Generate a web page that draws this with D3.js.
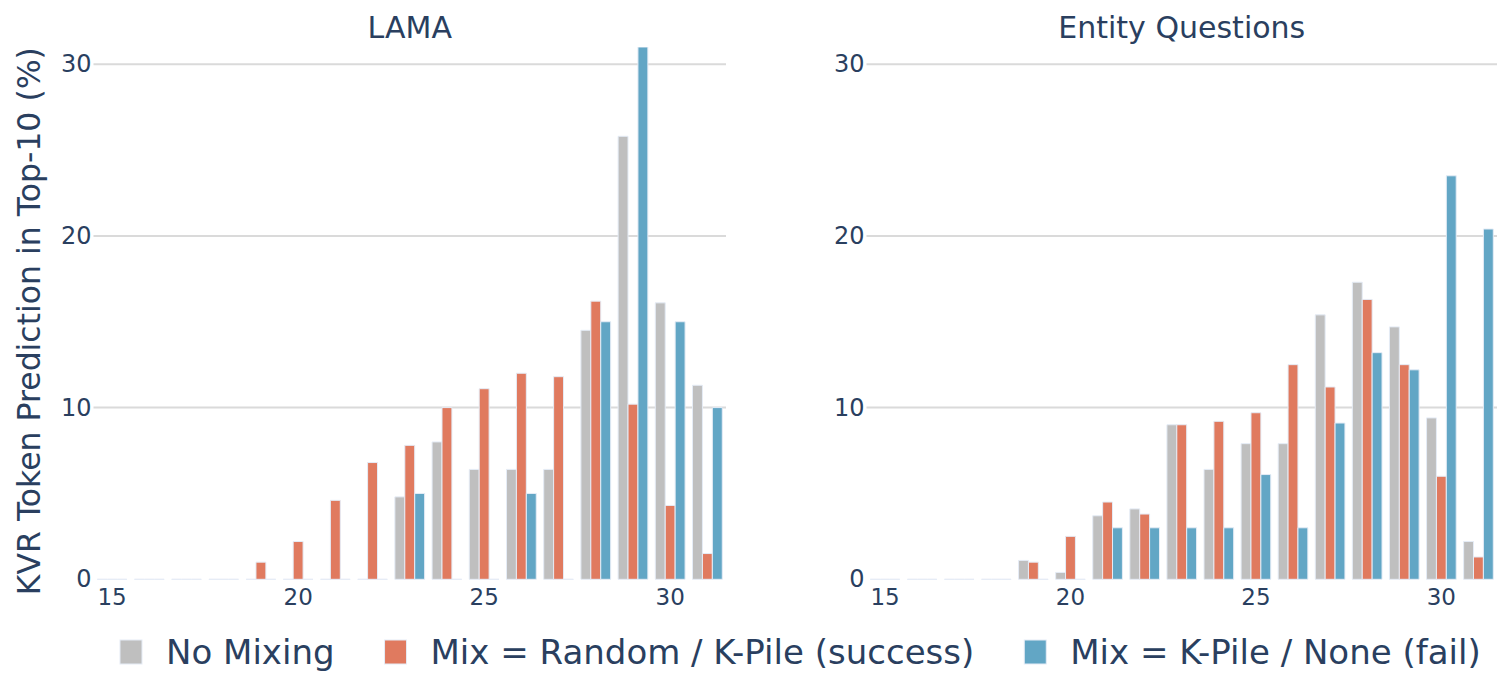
<!DOCTYPE html>
<html>
<head>
<meta charset="utf-8">
<script src="https://cdn.jsdelivr.net/npm/d3@7"></script>
<style>
  body { margin: 0; background: #fff; }
  text { font-family: "DejaVu Sans", Verdana, sans-serif; fill: #2a3f5f; }
</style>
</head>
<body>
<div id="chart-area"></div>
<script>
// categories (number of layers / bins on the x axis)
var bins = [15, 16, 17, 18, 19, 20, 21, 22, 23, 24, 25, 26, 27, 28, 29, 30, 31];
var xTicks = [15, 20, 25, 30];
var yTicks = [0, 10, 20, 30];
var seriesNames = ["No Mixing", "Mix = Random / K-Pile (success)", "Mix = K-Pile / None (fail)"];
var panelTitles = ["LAMA", "Entity Questions"];

// LAMA
var lamaNoMix  = [0, 0, 0, 0, 0,   0,   0,   0,   4.8, 8.0, 6.4,  6.4,  6.4,  14.5, 25.8, 16.1, 11.3];
var lamaRandom = [0, 0, 0, 0, 1.0, 2.2, 4.6, 6.8, 7.8, 10.0, 11.1, 12.0, 11.8, 16.2, 10.2, 4.3, 1.5];
var lamaKPile  = [0, 0, 0, 0, 0,   0,   0,   0,   5.0, 0,   0,    5.0,  0,    15.0, 31.0, 15.0, 10.0];

// Entity Questions
var entNoMix  = [0, 0, 0, 0, 1.1, 0.4, 3.7, 4.1, 9.0, 6.4, 7.9, 7.9,  15.4, 17.3, 14.7, 9.4,  2.2];
var entRandom = [0, 0, 0, 0, 1.0, 2.5, 4.5, 3.8, 9.0, 9.2, 9.7, 12.5, 11.2, 16.3, 12.5, 6.0,  1.3];
var entKPile  = [0, 0, 0, 0, 0,   0,   3.0, 3.0, 3.0, 3.0, 6.1, 3.0,  9.1,  13.2, 12.2, 23.5, 20.4];

var colors = ["#bfbfbf", "#e07a5f", "#62a6c5"];

var W = 1507, H = 698;
var plotTop = 47, plotBottom = 579.3;
var panels = [
    {title: panelTitles[0], left: 93.5, right: 726, series: [lamaNoMix, lamaRandom, lamaKPile]},
    {title: panelTitles[1], left: 866.5, right: 1497, series: [entNoMix, entRandom, entKPile]}
];

var svg = d3.select("#chart-area")
    .append("svg")
        .attr("width", W)
        .attr("height", H);

var y = d3.scaleLinear()
    .domain([0, 31])
    .range([plotBottom, plotTop]);

panels.forEach(function(p, pi) {
    var x = d3.scaleBand()
        .domain(bins)
        .range([p.left, p.right])
        .paddingInner(0.2)
        .paddingOuter(0.1);

    var xs = d3.scaleBand()
        .domain([0, 1, 2])
        .range([0, x.bandwidth()]);

    var g = svg.append("g");

    // gridlines
    g.selectAll("line.grid")
        .data(yTicks.filter(function(d) { return d > 0; }))
        .enter().append("line")
            .attr("class", "grid")
            .attr("x1", p.left)
            .attr("x2", p.right)
            .attr("y1", function(d) { return y(d); })
            .attr("y2", function(d) { return y(d); })
            .attr("stroke", "#dadada")
            .attr("stroke-width", 2);

    // clip to plot area
    svg.append("clipPath")
        .attr("id", "clip" + pi)
        .append("rect")
            .attr("x", p.left)
            .attr("y", plotTop)
            .attr("width", p.right - p.left)
            .attr("height", plotBottom - plotTop + 2);

    var bars = g.append("g").attr("clip-path", "url(#clip" + pi + ")");

    p.series.forEach(function(vals, si) {
        bars.selectAll("path.s" + si)
            .data(vals.map(function(v, i) { return {bin: bins[i], v: v}; }))
            .enter().append("path")
                .attr("class", "s" + si)
                .attr("d", function(d) {
                    var x0 = x(d.bin) + xs(si), x1 = x0 + xs.bandwidth();
                    return "M" + x0 + "," + y(0) + "V" + y(d.v) + "H" + x1 + "V" + y(0) + "Z";
                })
                .attr("fill", colors[si])
                .attr("stroke", "#e5ecf6")
                .attr("stroke-width", 1);
    });

    // axes
    var xAxis = d3.axisBottom(x).tickValues(xTicks).tickSize(0).tickPadding(9);
    var xg = g.append("g")
        .attr("transform", "translate(0," + plotBottom + ")")
        .call(xAxis);
    xg.select(".domain").remove();
    xg.attr("font-family", null);
    xg.selectAll("text").attr("font-size", 23).style("fill", "#2a3f5f");

    var yAxis = d3.axisLeft(y).tickValues(yTicks).tickSize(0).tickPadding(2);
    var yg = g.append("g")
        .attr("transform", "translate(" + p.left + ",0)")
        .call(yAxis);
    yg.select(".domain").remove();
    yg.attr("font-family", null);
    yg.selectAll("text").attr("font-size", 24).style("fill", "#2a3f5f");

    // panel title
    g.append("text")
        .attr("x", (p.left + p.right) / 2)
        .attr("y", 38)
        .attr("text-anchor", "middle")
        .attr("font-size", 30)
        .text(p.title);
});

// y axis title
svg.append("text")
    .attr("transform", "translate(40," + ((plotTop + plotBottom) / 2 + 8) + ") rotate(-90)")
    .attr("text-anchor", "middle")
    .attr("font-size", 31.5)
    .text("KVR Token Prediction in Top-10 (%)");

// legend
var legend = svg.append("g").attr("transform", "translate(120,652)");
var lx = 0;
seriesNames.forEach(function(name, i) {
    var item = legend.append("g").attr("transform", "translate(" + lx + ",0)");
    item.append("rect")
        .attr("x", 0)
        .attr("y", -12)
        .attr("width", 22)
        .attr("height", 24)
        .attr("fill", colors[i])
        .attr("stroke", "#e5ecf6")
        .attr("stroke-width", 1);
    var t = item.append("text")
        .attr("x", 46)
        .attr("y", 0)
        .attr("dy", "0.36em")
        .attr("font-size", 34)
        .text(name);
    lx += 46 + t.node().getComputedTextLength() + 50;
});
</script>
</body>
</html>
